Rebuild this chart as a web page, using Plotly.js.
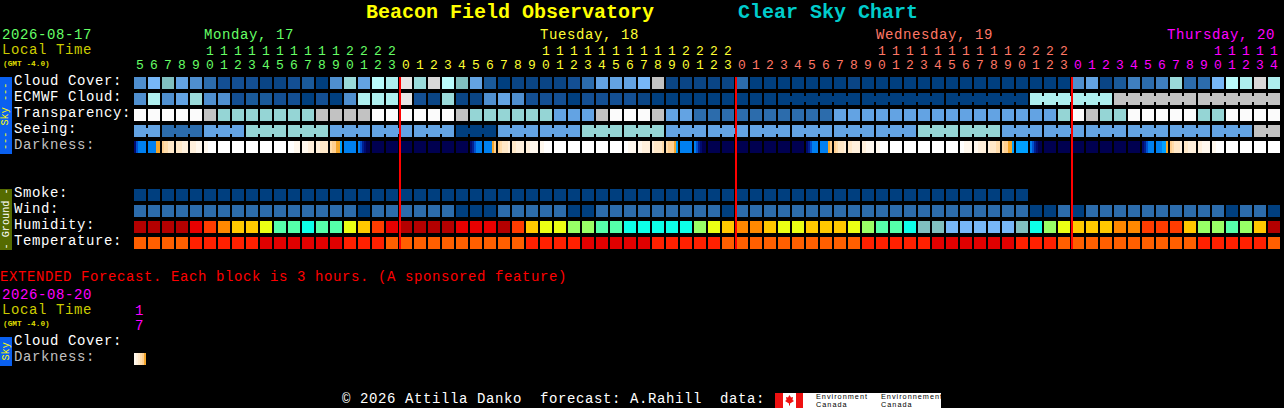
<!DOCTYPE html>
<html><head><meta charset="utf-8">
<script src="https://cdn.plot.ly/plotly-3.0.1.min.js"></script>
<style>html,body{margin:0;padding:0;background:#000;overflow:hidden}#chart{width:1284px;height:408px}
text[style*="font-size: 14px"]{letter-spacing:.6px}
text[style*="font-size: 7.3px"]{letter-spacing:1px}</style>
</head><body><div id="chart"></div>
<script>
// ---------- data ----------
const hours = [5,6,7,8,9,10,11,12,13,14,15,16,17,18,19,20,21,22,23,
  0,1,2,3,4,5,6,7,8,9,10,11,12,13,14,15,16,17,18,19,20,21,22,23,
  0,1,2,3,4,5,6,7,8,9,10,11,12,13,14,15,16,17,18,19,20,21,22,23,
  0,1,2,3,4,5,6,7,8,9,10,11,12,13,14];
const skyPalette = ['#003f7f','#0a4585','#134f93','#1a5a9a','#2c6cac','#3f7fbf','#4f8fcf','#63a3e3','#77b7f7','#80bfbf','#9adada','#aeeeee','#b9fbfb','#c2c2c2','#d8d8d8','#e6e6e6','#fbfbfb','#95d5d5'];
const cloudCover = [6,8,9,7,6,4,2,2,2,1,1,2,3,0,6,10,7,12,11,15,10,14,12,9,7,3,0,1,1,1,1,2,4,7,7,7,8,13,1,1,1,1,1,4,
  0,0,0,0,0,0,0,1,0,0,0,0,0,0,0,0,0,0,0,0,0,0,0,6,7,1,3,5,4,5,10,4,4,8,12,11,14,11];
const ecmwfCloud = [6,11,6,7,10,6,6,2,3,3,2,2,0,2,0,6,11,11,11,15,2,1,10,1,1,6,7,6,2,2,2,0,2,2,2,2,1,0,
  0,0,0,0,0,0,0,0,0,0,0,0,0,0,0,0,0,0,0,0,0,0,0,0,0,0,11,11,11,11,11,11,13,13,13,13,13,13,13,13,13,13,13,13];
const ecmwfBlocks = [1,1,1,1,1,1,1,1,1,1,1,1,1,1,1,1,1,1,1,1,1,1,1,1,1,1,1,1,1,1,1,1,1,1,1,1,1,1,1,1,1,1,1,1,1,1,6,6,6,6,6,6];
const transparency = [16,16,16,16,16,13,17,17,17,17,17,17,17,13,13,13,13,16,16,16,16,16,16,13,17,17,17,17,17,17,7,7,7,13,16,16,16,13,7,7,
  4,4,4,4,4,4,4,4,4,4,7,7,7,7,7,7,7,7,7,7,7,7,7,7,7,7,17,16,13,17,17,16,16,16,16,16,17,17,16,16,16,16];
const seeing = [7,7,4,4,4,7,7,7,17,17,17,17,17,17,7,7,7,7,7,7,7,7,7,0,0,0,7,7,7,7,7,7,17,17,17,17,17,17,7,7,7,7,7,7,7,7,7,7,7,7,7,7,7,
  7,7,7,17,17,17,17,17,17,7,7,7,7,7,7,7,7,7,7,7,7,7,7,7,7,7,7,13,13];
const seeingBlocks = [2,3,3,3,3,3,3,3,3,3,3,3,3,3,3,3,3,3,3,3,3,3,3,3,3,3,3,2];
const darkPalette = ['#ffffff','#fff8ee','#fff0dc','#ffe8c8','#ffdcaa','#ffcf90','#f4a62a','#00a0ff','#0080f0','#0050d0','#002090','#000a70','#000050'];
const darkness = [
  [11,9,8,8,8,8],[8,8,8,8,6,6],[5,4,4,3,3,3],[3,3,3,2,2,2],[2,2,2,1,1,1],[1,1,0,0,0,0],0,0,0,0,0,[0,0,0,1,1,1],[1,1,1,2,2,2],[2,2,3,3,3,3],[4,5,5,6,6,7],8,[8,9,10,11,12,12],
  12,12,12,12,12,12,12,
  [11,10,9,8,8,8],[8,8,8,8,6,5],[5,4,3,3,3,2],[3,3,2,2,2,2],[2,2,1,1,1,1],[1,1,0,0,0,0],0,0,0,0,0,[0,0,1,1,1,1],[1,1,2,2,2,2],[2,3,3,3,3,4],[4,5,5,5,6,7],8,[8,9,10,11,12,12],
  12,12,12,12,12,12,12,
  [11,10,9,8,8,8],[8,8,8,8,6,5],[5,4,3,3,3,2],[3,3,2,2,2,2],[2,2,1,1,1,1],[1,1,0,0,0,0],0,0,0,0,0,[0,0,1,1,1,1],[1,1,2,2,2,2],[2,3,3,3,4,4],[4,5,5,6,6,7],7,[8,9,10,11,12,12],
  12,12,12,12,12,12,12,
  [11,10,9,8,8,8],[8,8,8,7,7,6],[5,4,3,3,3,2],[3,3,2,2,2,2],[2,2,1,1,1,1],[1,1,0,0,0,0],0,0,0,0
];
const extendedDarkness = [[1,2,3,4,5,6]];
const smoke = [0,0,0,0,0,0,0,0,0,0,0,0,0,0,0,0,0,0,0,0,0,0,0,0,0,0,0,0,0,0,0,0,0,0,0,0,0,0,0,0,0,0,0,0,0,0,0,0,0,0,0,0,0,0,0,0,0,0,0,0,0,0,0,0];
const wind = [4,4,4,4,4,4,4,4,4,4,4,4,4,4,4,4,0,4,4,4,4,4,4,0,0,0,4,4,4,4,4,0,0,4,4,4,4,4,4,4,4,4,0,4,4,4,4,4,4,4,4,4,4,4,4,4,4,4,4,4,4,4,4,4,0,0,4,0,4,4,4,4,4,4,4,4,4,4,0,4,4,0];
const humidityPalette = ['#b40000','#e80000','#ff3c00','#ff8800','#ffc800','#ebff14','#98ff66','#55ffaa','#0dffe8','#80bfbf','#77b7f7'];
const humidity = [0,0,0,0,1,2,3,4,4,5,7,7,8,7,7,5,4,2,1,0,0,0,0,1,1,1,0,2,4,5,5,6,6,7,7,8,8,8,8,8,6,5,4,3,3,4,5,5,4,4,4,5,6,7,7,8,9,9,10,10,10,10,10,9,8,6,5,4,4,4,3,3,2,2,2,4,6,6,7,6,4,0];
const tempPalette = ['#ff5f00','#ff2000','#e00000'];
const temperature = [0,0,0,0,1,1,1,1,1,2,2,2,2,2,2,1,1,1,0,0,0,0,0,0,0,0,0,0,1,1,1,1,2,2,2,2,2,1,1,1,1,1,0,0,0,0,0,0,0,0,0,0,1,1,1,1,1,2,2,2,2,2,2,1,1,1,0,0,0,0,0,0,0,0,0,0,1,1,1,1,1,0];
const dayNames = ['Monday, 17','Tuesday, 18','Wednesday, 19','Thursday, 20'];
const dayColors = ['#66ff66','#ffff33','#ff7766','#ff00ff'];
const skyRowLabels = ['Cloud Cover:','ECMWF Cloud:','Transparency:','Seeing:','Darkness:'];
const groundRowLabels = ['Smoke:','Wind:','Humidity:','Temperature:'];

// ---------- geometry (page pixels) ----------
const W = 1284, H = 408, STEP = 14, CELL = 12, ROW = 16;
const px = x => x / W, py = y => 1 - y / H;
const cellW = CELL / STEP, cellH = CELL / ROW;
const SAMPLES = 6;
const traces = [];
function cells(row, values, palette) {
  traces.push({type:'bar', x:values.map((_, i) => i), y:values.map(() => cellH), base:values.map(() => row - cellH / 2),
    width:cellW, marker:{color:values.map(v => palette[v]), line:{width:0}}, hoverinfo:'skip', showlegend:false});
}
function bridges(row, values, blocks, palette) {
  const xs = [], cs = []; let c = 0;
  blocks.forEach(len => { for (let k = 0; k < len - 1; k++) { xs.push(c + k + 0.5); cs.push(palette[values[c + k]]); } c += len; });
  traces.push({type:'bar', x:xs, y:xs.map(() => 6 / ROW), base:xs.map(() => row - 3 / ROW), width:3 / STEP,
    marker:{color:cs, line:{width:0}}, hoverinfo:'skip', showlegend:false});
}
function gradient(row, values, palette) {
  const xs = [], cs = [];
  values.forEach((v, i) => {
    const s = Array.isArray(v) ? v : Array(SAMPLES).fill(v);
    s.forEach((d, k) => { xs.push(i + (k - (SAMPLES - 1) / 2) * cellW / SAMPLES); cs.push(palette[d]); });
  });
  traces.push({type:'bar', x:xs, y:xs.map(() => cellH), base:xs.map(() => row - cellH / 2), width:cellW / SAMPLES,
    marker:{color:cs, line:{width:0}}, hoverinfo:'skip', showlegend:false});
}
cells(0, cloudCover, skyPalette);
cells(1, ecmwfCloud, skyPalette); bridges(1, ecmwfCloud, ecmwfBlocks, skyPalette);
cells(2, transparency, skyPalette);
cells(3, seeing, skyPalette); bridges(3, seeing, seeingBlocks, skyPalette);
gradient(4, darkness, darkPalette);
cells(7, smoke, skyPalette);
cells(8, wind, skyPalette);
cells(9, humidity, humidityPalette);
cells(10, temperature, tempPalette);
gradient(17.25, extendedDarkness, darkPalette);

// ---------- text ----------
const MONO = 'Liberation Mono, monospace';
const SANS = 'Liberation Sans, sans-serif';
const ann = [];
function label(text, x, base, color, size = 14, extra = {}) {
  ann.push(Object.assign({text, xref:'paper', yref:'paper', x:px(x), y:py(base - size * 0.265), xanchor:'left', yanchor:'middle',
    showarrow:false, borderpad:0, borderwidth:0, font:{family:MONO, size, color}}, extra));
}
label('Beacon Field Observatory', 366, 18, '#ffff00', 20, {font:{family:MONO, size:20, color:'#ffff00', weight:700}});
label('Clear Sky Chart', 738, 18, '#00cccc', 20, {font:{family:MONO, size:20, color:'#00cccc', weight:700}});
label('2026-08-17', 2, 39, '#66ff66');
label('Local Time', 2, 54, '#cccc00');
label('(GMT -4.0)', 3, 66, '#dddd00', 7.8, {font:{family:MONO, size:7.8, color:'#dddd00', weight:700}});
skyRowLabels.forEach((t, i) => label(t, 14, 85 + 16 * i, i === 4 ? '#c0c0c0' : '#ffffff'));
groundRowLabels.forEach((t, i) => label(t, 14, 197 + 16 * i, '#ffffff'));
label('EXTENDED Forecast. Each block is 3 hours. (A sponsored feature)', 0, 281, '#ff0000');
label('2026-08-20', 2, 299, '#ff00ff');
label('Local Time', 2, 314, '#cccc00');
label('(GMT -4.0)', 3, 326, '#dddd00', 7.8, {font:{family:MONO, size:7.8, color:'#dddd00', weight:700}});
label('1', 135, 315, '#ff00ff');
label('7', 135, 330, '#ff00ff');
label('Cloud Cover:', 14, 345, '#ffffff');
label('Darkness:', 14, 361, '#c0c0c0');
label('\u00a9 2026 Attilla Danko  forecast: A.Rahill  data:', 342, 403, '#ffffff');
const logoFont = {family:SANS, size:7.3, color:'#000000'};
label('Environment', 816, 398, '#000000', 7.3, {font:logoFont});
label('Canada', 816, 406.2, '#000000', 7.3, {font:logoFont});
label('Environnement', 881, 398, '#000000', 7.3, {font:logoFont});
label('Canada', 881, 406.2, '#000000', 7.3, {font:logoFont});

// day headers and hour digits, from the hours array
let day = 0;
const midnights = [];
hours.forEach((h, c) => {
  if (h === 0 && c > 0) { day++; midnights.push(c); }
  const color = dayColors[day];
  const colX = 140 + STEP * c;
  ann.push({text:String(h % 10), xref:'x', yref:'paper', x:c, y:py(69.5 - 3.5), xanchor:'center', yanchor:'middle', showarrow:false, borderpad:0, font:{family:MONO, size:13, color}});
  if (h >= 10) ann.push({text:String(Math.floor(h / 10)), xref:'x', yref:'paper', x:c, y:py(54.5 - 3.5), xanchor:'center', yanchor:'middle', showarrow:false, borderpad:0, font:{family:MONO, size:13, color}});
  if (h === 10 && day < 3) label(dayNames[day], colX - 6, 39, color);
});
label(dayNames[3], 1167, 39, dayColors[3]);

// side bars
const shapes = [];
function side(text, y0, y1, centre, fill, color) {
  shapes.push({type:'rect', xref:'paper', yref:'paper', x0:0, x1:px(12), y0:py(y0), y1:py(y1), fillcolor:fill, line:{width:0}});
  ann.push({text, xref:'paper', yref:'paper', x:px(6), y:py(centre), xanchor:'center', yanchor:'middle', textangle:-90, showarrow:false, borderpad:0, font:{family:MONO, size:10.2, color}});
}
side('--- Sky ---', 77, 154, 117, '#0a60f0', '#ffff00');
side('- Ground -', 189, 250, 219.5, '#556b00', '#ffffff');
side('Sky', 337, 366, 351.5, '#0a60f0', '#ffff00');

// midnight rules
midnights.forEach(c => shapes.push({type:'rect', xref:'x', yref:'y', x0:c - cellW / 2 - 1 / STEP, x1:c - cellW / 2 + 1 / STEP, y0:-cellH / 2, y1:10 + cellH / 2, fillcolor:'#ff0000', line:{width:0}}));

// footer logo
const rect = (x0, y0, x1, y1, fill) => shapes.push({type:'rect', xref:'paper', yref:'paper', x0:px(x0), x1:px(x1), y0:py(y0), y1:py(y1), fillcolor:fill, line:{width:0}});
rect(775, 393, 941, 408, '#ffffff');
rect(775, 393, 783, 408, '#ee1111');
rect(796, 393, 803, 408, '#ee1111');
const leaf = [[789.5,395],[791,397.5],[793,397],[792.5,400],[794,401],[790,403.5],[790,405.5],[789,405.5],[789,403.5],[785,401],[786.5,400],[786,397],[788,397.5]];
shapes.push({type:'path', xref:'paper', yref:'paper', path:'M' + leaf.map(p => px(p[0]) + ',' + py(p[1])).join('L') + 'Z', fillcolor:'#ee1111', line:{width:0}});

Plotly.newPlot('chart', traces, {
  width:W, height:H, autosize:false, margin:{l:0, r:0, t:0, b:0, pad:0},
  paper_bgcolor:'#000', plot_bgcolor:'#000', barmode:'overlay', showlegend:false, hovermode:false,
  xaxis:{visible:false, range:[-140 / STEP, (W - 140) / STEP], fixedrange:true},
  yaxis:{visible:false, range:[(H - 83) / ROW, -83 / ROW], fixedrange:true},
  shapes, annotations:ann
}, {staticPlot:true, displayModeBar:false});
</script></body></html>
